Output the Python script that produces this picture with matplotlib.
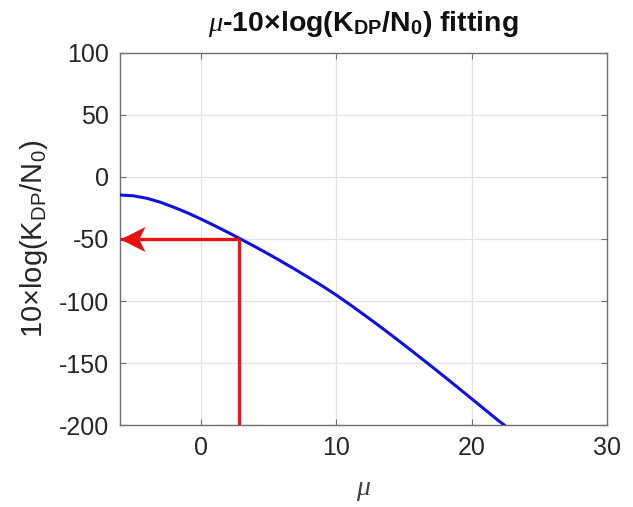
import matplotlib
matplotlib.use("Agg")
import matplotlib.pyplot as plt
from matplotlib.path import Path

# fitted curve, mu vs 10*log(K_DP/N_0)
mu = [-6, -5, -4, -3, -2, -1, 0, 1, 2, 3, 4, 5, 6, 7, 8, 9, 10, 11, 12, 13,
      14, 15, 16, 17, 18, 19, 20, 21, 22, 22.4]
kdp_db = [-14.5, -15.2, -17.2, -20.4, -24.5, -29, -34, -39.3, -44.8, -50.5,
          -56.3, -62.3, -68.5, -74.9, -81.5, -88.2, -95.3, -102.9, -110.8,
          -118.8, -127, -135.4, -143.9, -152.5, -161.2, -170, -178.9, -187.8,
          -196.7, -200]

# operating point
mu_sel = 2.8
level_sel = -50

xticks = [0, 10, 20, 30]
yticks = [100, 50, 0, -50, -100, -150, -200]

plt.rcParams['font.family'] = ['Liberation Sans', 'DejaVu Sans']
plt.rcParams['axes.unicode_minus'] = False
plt.rcParams['mathtext.fontset'] = 'custom'
plt.rcParams['mathtext.rm'] = 'Liberation Sans'
plt.rcParams['mathtext.it'] = 'Liberation Serif:italic'
plt.rcParams['mathtext.bf'] = 'Liberation Sans:bold'

txt = '#262626'
fig = plt.figure(figsize=(6.33, 5.07), dpi=100)
ax = fig.add_axes([0.1896, 0.1617, 0.7694, 0.7338])

ax.plot(mu, kdp_db, color='#1010e0', lw=2.2, zorder=3)

# vertical drop from the operating point, arrow back to the axis
ax.plot([mu_sel, mu_sel], [-200, level_sel], color='#d82020', lw=2.4,
        solid_capstyle='butt', zorder=4)
ax.plot([-6, mu_sel], [level_sel, level_sel], color='#e81010', lw=2.4,
        solid_capstyle='butt', zorder=4)
head = Path([(0, 0), (1, 0.5), (0.75, 0), (1, -0.5), (0, 0)],
            [Path.MOVETO, Path.LINETO, Path.LINETO, Path.LINETO, Path.CLOSEPOLY])
ax.plot([-6], [level_sel], marker=head, markersize=36, color='#e81010',
        mec='#e81010', mew=0, clip_on=False, zorder=5)

ax.set_xlim(-6, 30)
ax.set_ylim(-200, 100)
ax.set_xticks(xticks)
ax.set_yticks(yticks)
ax.grid(color='#e3e3e3', lw=0.9, zorder=0)
ax.set_axisbelow(True)

for s in ax.spines.values():
    s.set_color('#707070')
    s.set_linewidth(1.0)
ax.tick_params(direction='in', length=4, width=0.8, color='#707070',
               top=True, right=True, labelsize=18, labelcolor=txt, pad=8)

ax.set_title(r'$\mu$-10×log(K$_{\mathbf{DP}}$/N$_{\mathbf{0}}$) fitting',
             fontsize=20.5, fontweight='bold', color='#111111', pad=16)
ax.set_ylabel(r'10×log(K$_{\rm DP}$/N$_0$)', fontsize=21, color=txt, labelpad=6)
ax.set_xlabel(r'$\mu$', fontsize=20, color='#404040', labelpad=12)

fig.savefig('out.png', dpi=100)
